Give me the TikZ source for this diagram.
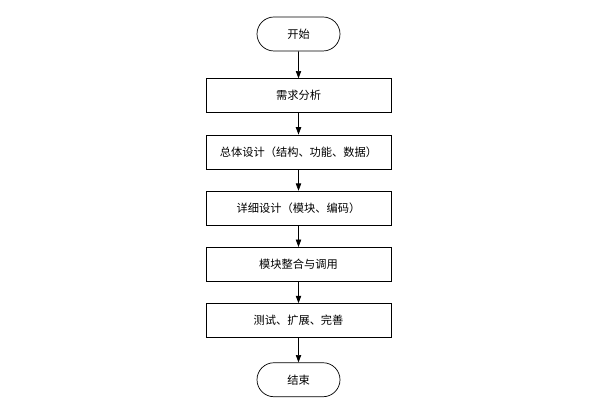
\documentclass[tikz,border=0pt]{standalone}
\usepackage{fontspec}
\newfontfamily\cjk{Noto Sans CJK SC}
\usetikzlibrary{positioning,shapes.misc,arrows.meta}

\begin{document}
\begin{tikzpicture}[x=0.03cm,y=-0.03cm,
        font=\cjk\fontsize{9.6}{11}\selectfont,line width=0.6pt,
        node distance=6.45mm,
        term/.style={draw,rounded rectangle,minimum width=2.49cm,minimum height=1.02cm,inner sep=0pt},
        proc/.style={draw,rectangle,minimum width=5.55cm,minimum height=1.02cm,inner sep=0pt},
        flow/.style={-{Triangle[length=2.2mm,width=1.6mm]}}]

    \useasboundingbox (0,0) rectangle (589,402);

    \node[term] (start) at (298.5,34) {开始};
    \node[proc,below=8.1mm of start] (req)  {需求分析};
    \node[proc,below=of req]  (arch)   {总体设计（结构、功能、数据）};
    \node[proc,below=of arch] (detail) {详细设计（模块、编码）};
    \node[proc,below=of detail] (integ) {模块整合与调用};
    \node[proc,below=of integ] (test)  {测试、扩展、完善};
    \node[term,below=7.35mm of test] (stop) {结束};

    \draw[flow] (start) -- (req);
    \draw[flow] (req) -- (arch);
    \draw[flow] (arch) -- (detail);
    \draw[flow] (detail) -- (integ);
    \draw[flow] (integ) -- (test);
    \draw[flow] (test) -- (stop);
\end{tikzpicture}
\end{document}
